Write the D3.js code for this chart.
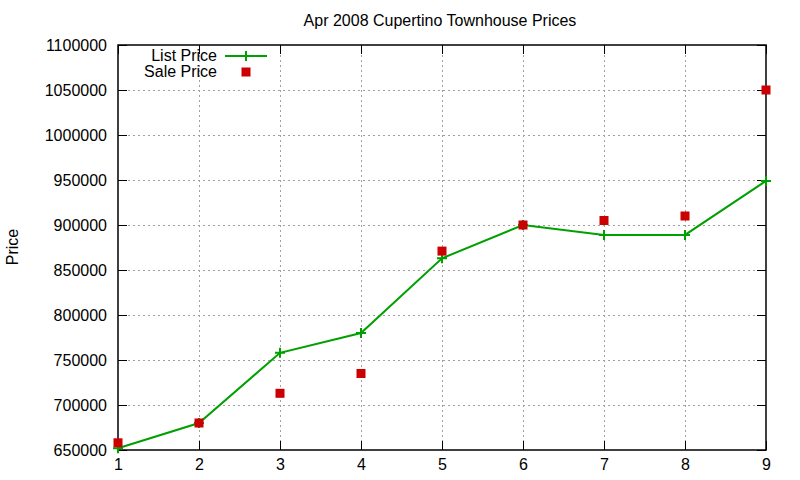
<!DOCTYPE html>
<html>
<head>
<meta charset="utf-8">
<script src="https://cdn.jsdelivr.net/npm/d3@7/dist/d3.min.js"></script>
<style>
  body { margin: 0; background: white; }
  text { font-family: "Liberation Sans", Arial, sans-serif; fill: #000; }
</style>
</head>
<body>
<div id="chart"></div>
<script>
// data
const months = [1, 2, 3, 4, 5, 6, 7, 8, 9];
const listPrice = [652000, 680000, 758000, 780000, 863000, 900000, 889000, 889000, 949000];
const salePrice = [658000, 680000, 713000, 735000, 871000, 900000, 905000, 910000, 1050000];
const yTicks = [650000, 700000, 750000, 800000, 850000, 900000, 950000, 1000000, 1050000, 1100000];

const width = 800;
const height = 480;
const margin = { top: 45, right: 34, bottom: 30, left: 118 };

const svg = d3.select("#chart")
    .append("svg")
    .attr("width", width)
    .attr("height", height)
    .style("background", "white");

const x = d3.scaleLinear()
    .domain([1, 9])
    .range([margin.left, width - margin.right]);

const y = d3.scaleLinear()
    .domain([650000, 1100000])
    .range([height - margin.bottom, margin.top]);

// grid
const grid = svg.append("g")
    .attr("stroke", "#a0a0a0")
    .attr("stroke-width", 1)
    .attr("stroke-dasharray", "2,3");

grid.selectAll("line.gx")
    .data(months.slice(1, -1))
    .enter()
    .append("line")
    .attr("x1", d => x(d) + 0.5)
    .attr("x2", d => x(d) + 0.5)
    .attr("y1", y(1100000))
    .attr("y2", y(650000));

grid.selectAll("line.gy")
    .data(yTicks.slice(1, -1))
    .enter()
    .append("line")
    .attr("x1", x(1))
    .attr("x2", x(9))
    .attr("y1", d => y(d) + 0.5)
    .attr("y2", d => y(d) + 0.5);

// axes (ticks pointing inward, mirrored on all sides)
const tickLen = 9;
svg.append("g")
    .attr("transform", `translate(0,${y(650000)})`)
    .call(d3.axisBottom(x).tickValues(months).tickFormat(d3.format("d")).tickSizeInner(-tickLen).tickSizeOuter(0).tickPadding(tickLen))
    .call(g => g.select(".domain").remove());

svg.append("g")
    .attr("transform", `translate(0,${y(1100000)})`)
    .call(d3.axisTop(x).tickValues(months).tickSizeInner(-tickLen).tickSizeOuter(0).tickFormat(""))
    .call(g => g.select(".domain").remove());

svg.append("g")
    .attr("transform", `translate(${x(1)},0)`)
    .call(d3.axisLeft(y).tickValues(yTicks).tickFormat(d3.format("d")).tickSizeInner(-tickLen).tickSizeOuter(0).tickPadding(tickLen + 2))
    .call(g => g.select(".domain").remove());

svg.append("g")
    .attr("transform", `translate(${x(9)},0)`)
    .call(d3.axisRight(y).tickValues(yTicks).tickSizeInner(-tickLen).tickSizeOuter(0).tickFormat(""))
    .call(g => g.select(".domain").remove());

svg.selectAll(".tick text")
    .style("font-size", "16px")
    .style("font-family", "Liberation Sans, Arial, sans-serif");
svg.selectAll(".tick line").attr("stroke", "#000");

// border
svg.append("rect")
    .attr("x", x(1))
    .attr("y", y(1100000))
    .attr("width", x(9) - x(1))
    .attr("height", y(650000) - y(1100000))
    .attr("fill", "none")
    .attr("stroke", "#000")
    .attr("stroke-width", 1.5);

// list price line
const green = "#00a000";
const red = "#cc0000";

svg.append("path")
    .datum(months.map((m, i) => [m, listPrice[i]]))
    .attr("fill", "none")
    .attr("stroke", green)
    .attr("stroke-width", 2)
    .attr("d", d3.line().x(d => x(d[0])).y(d => y(d[1])));

const plus = (g, cx, cy) => {
    g.append("path")
        .attr("d", `M${cx - 5},${cy}H${cx + 5}M${cx},${cy - 5}V${cy + 5}`)
        .attr("stroke", green)
        .attr("stroke-width", 2)
        .attr("fill", "none");
};

const plusG = svg.append("g");
months.forEach((m, i) => plus(plusG, x(m), y(listPrice[i])));

// sale price points
svg.selectAll("rect.sale")
    .data(months.map((m, i) => [m, salePrice[i]]))
    .enter()
    .append("rect")
    .attr("class", "sale")
    .attr("x", d => x(d[0]) - 4.5)
    .attr("y", d => y(d[1]) - 4.5)
    .attr("width", 9)
    .attr("height", 9)
    .attr("fill", red);

// legend
const legend = svg.append("g");
legend.append("text")
    .attr("x", 217)
    .attr("y", 61)
    .attr("text-anchor", "end")
    .style("font-size", "16px")
    .text("List Price");
legend.append("line")
    .attr("x1", 225)
    .attr("x2", 267)
    .attr("y1", 56)
    .attr("y2", 56)
    .attr("stroke", green)
    .attr("stroke-width", 2);
plus(legend, 246, 56);

legend.append("text")
    .attr("x", 217)
    .attr("y", 77)
    .attr("text-anchor", "end")
    .style("font-size", "16px")
    .text("Sale Price");
legend.append("rect")
    .attr("x", 246 - 4.5)
    .attr("y", 72 - 4.5)
    .attr("width", 9)
    .attr("height", 9)
    .attr("fill", red);

// title
svg.append("text")
    .attr("x", 440)
    .attr("y", 26)
    .attr("text-anchor", "middle")
    .style("font-size", "16px")
    .text("Apr 2008 Cupertino Townhouse Prices");

// y label
svg.append("text")
    .attr("transform", "translate(18,247) rotate(-90)")
    .attr("text-anchor", "middle")
    .style("font-size", "16px")
    .text("Price");
</script>
</body>
</html>
